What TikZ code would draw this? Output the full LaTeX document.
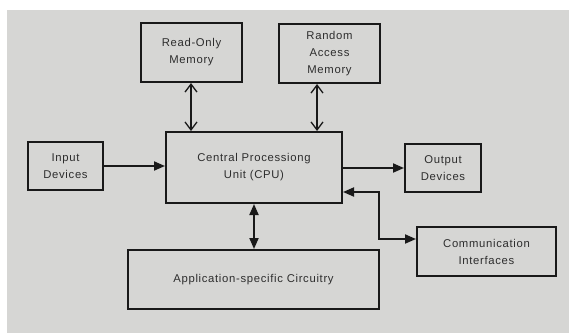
\documentclass[tikz,border=0pt]{standalone}
\usepackage{fontspec}
\setmainfont{Liberation Sans}[LetterSpace=6]
\usetikzlibrary{arrows.meta}
\definecolor{pagegray}{RGB}{214,214,212}
\definecolor{inkcol}{RGB}{25,25,25}
\definecolor{txtcol}{RGB}{45,45,45}
\tikzset{
  blockbox/.style={draw=inkcol, line width=2pt, rectangle, align=center,
    text=txtcol, font=\fontsize{11.3}{17}\selectfont, inner sep=0pt},
  solidarrow/.style={draw=inkcol, line width=1.9pt,
    -{Triangle[length=11pt,width=9pt]}},
  solidboth/.style={draw=inkcol, line width=1.9pt,
    {Triangle[length=11pt,width=9pt]}-{Triangle[length=11pt,width=9pt]}},
  barbboth/.style={draw=inkcol, line width=1.6pt,
    {Straight Barb[length=8pt,width=12pt,line width=1.3pt]}-{Straight Barb[length=8pt,width=12pt,line width=1.3pt]}}
}
\begin{document}
\begin{tikzpicture}[x=1pt,y=-1pt]
\useasboundingbox (0,0) rectangle (569,333);
\fill[white] (0,0) rectangle (569,333);
\fill[pagegray] (7,10) rectangle (569,333);
% blocks
\node[blockbox, minimum width=101pt, minimum height=59pt] (rom) at (191.5,52.5) {Read-Only\\Memory};
\node[blockbox, minimum width=101pt, minimum height=59pt] (ram) at (329.5,53.5) {Random\\Access\\Memory};
\node[blockbox, minimum width=176pt, minimum height=71pt] (cpu) at (254,167.5) {Central Processiong\\Unit (CPU)};
\node[blockbox, minimum width=75pt, minimum height=48pt] (inp) at (65.5,166) {Input\\Devices};
\node[blockbox, minimum width=76pt, minimum height=48pt] (outp) at (443,168) {Output\\Devices};
\node[blockbox, minimum width=139pt, minimum height=49pt] (comm) at (486.5,251.5) {Communication\\Interfaces};
\node[blockbox, minimum width=251pt, minimum height=59pt] (app) at (253.5,279.5) {Application-specific Circuitry};
% helper coordinates
\coordinate (romx) at (191,0);
\coordinate (ramx) at (317,0);
\coordinate (elbowtop) at (379,192);
\coordinate (elbowlow) at (379,239);
% connectors
\draw[barbboth] (romx |- rom.south) -- (romx |- cpu.north);
\draw[barbboth] (ramx |- ram.south) -- (ramx |- cpu.north);
\draw[solidarrow] (inp.east) -- (inp.east -| cpu.west);
\draw[solidarrow] (cpu.east |- outp.west) -- (outp.west);
\draw[solidboth] (cpu.south) -- (cpu.south |- app.north);
\draw[solidboth] (cpu.east |- elbowtop) -- (elbowtop) -- (elbowlow) -- (elbowlow -| comm.west);
\end{tikzpicture}
\end{document}
